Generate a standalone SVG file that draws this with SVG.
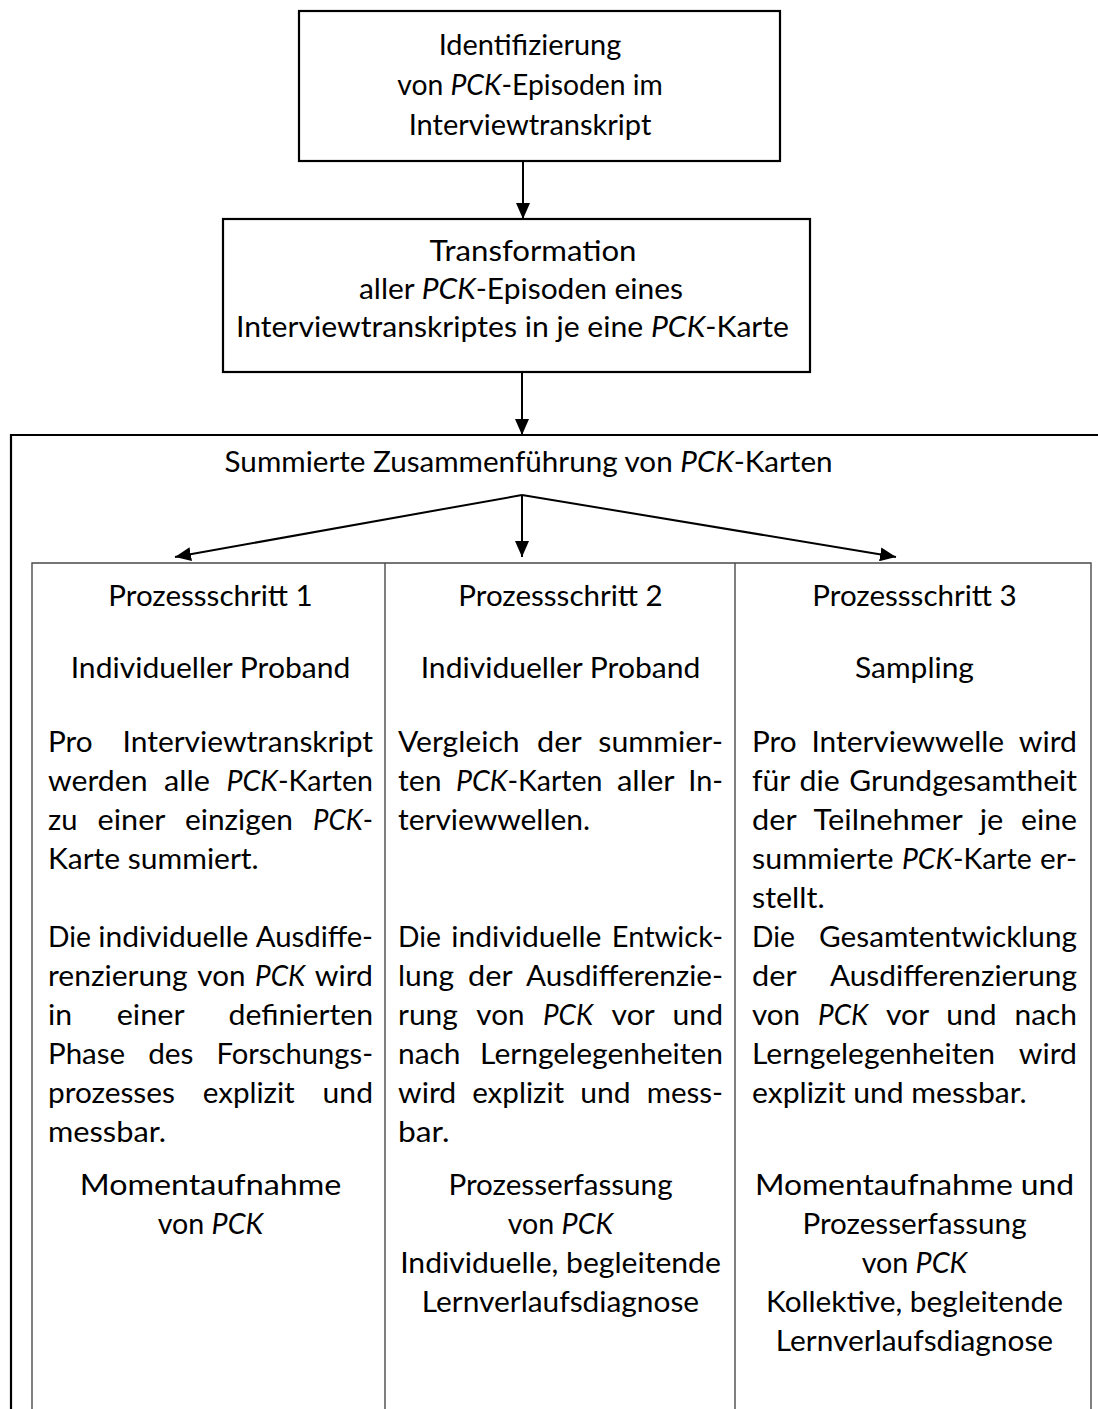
<svg xmlns="http://www.w3.org/2000/svg" width="1098" height="1409" viewBox="0 0 1098 1409">
  <defs>
    <style>
      .t { font-family: Lato, "Liberation Sans", "DejaVu Sans", sans-serif; font-size: 29px; fill: #000; }
      .b1 { font-size: 28px; }
      .b2 { font-size: 29.5px; }
      .i { font-style: italic; }
      .box { fill: #fff; stroke: #000; stroke-width: 2.2; }
      .frame { fill: none; stroke: #000; stroke-width: 2.2; }
      .grid { fill: none; stroke: #4a4a4a; stroke-width: 1.4; }
      .conn { fill: none; stroke: #000; stroke-width: 2; marker-end: url(#ah); }
    </style>
    <marker id="ah" markerUnits="userSpaceOnUse" markerWidth="16" markerHeight="14" refX="16" refY="7" orient="auto">
      <path d="M0,0 L16,7 L0,14 z" fill="#000"/>
    </marker>
  </defs>

  <rect width="1098" height="1409" fill="#fff"/>

  <!-- step 1: identification -->
  <g id="box-identifizierung">
    <rect class="box" x="299" y="11" width="481" height="150"/>
    <text class="t b1" x="530" y="55" text-anchor="middle" textLength="182.6" lengthAdjust="spacingAndGlyphs">Identifizierung</text>
    <text class="t b1" x="530" y="95" text-anchor="middle" textLength="265.6" lengthAdjust="spacingAndGlyphs">von <tspan class="i">PCK</tspan>-Episoden im</text>
    <text class="t b1" x="530" y="135" text-anchor="middle" textLength="242.6" lengthAdjust="spacingAndGlyphs">Interviewtranskript</text>
  </g>

  <!-- step 2: transformation -->
  <g id="box-transformation">
    <rect class="box" x="223" y="219" width="587" height="153"/>
    <text class="t b2" x="533" y="261" text-anchor="middle" textLength="207" lengthAdjust="spacingAndGlyphs">Transformation</text>
    <text class="t b2" x="521" y="299" text-anchor="middle" textLength="324" lengthAdjust="spacingAndGlyphs">aller <tspan class="i">PCK</tspan>-Episoden eines</text>
    <text class="t b2" x="512.5" y="337" text-anchor="middle" textLength="553" lengthAdjust="spacingAndGlyphs">Interviewtranskriptes in je eine <tspan class="i">PCK</tspan>-Karte</text>
  </g>

  <!-- summation frame with title -->
  <g id="box-zusammenfuehrung">
    <path class="frame" d="M1100,435 H11 V1410"/>
    <text class="t" x="528.6" y="472" text-anchor="middle" textLength="608" lengthAdjust="spacingAndGlyphs">Summierte Zusammenführung von <tspan class="i">PCK</tspan>-Karten</text>
  </g>

  <!-- three-column table -->
  <g id="table">
    <path class="grid" d="M32,1410 V563 H1091 V1410 M385,563 V1410 M735,563 V1410"/>
  </g>

  <!-- column 1 -->
  <g id="prozessschritt-1">
    <text class="t" x="210.5" y="606" text-anchor="middle" textLength="204.4" lengthAdjust="spacingAndGlyphs">Prozessschritt 1</text>
    <text class="t" x="210.5" y="678" text-anchor="middle" textLength="279.6" lengthAdjust="spacingAndGlyphs">Individueller Proband</text>
    <text class="t" y="752"><tspan x="48" textLength="44.6" lengthAdjust="spacingAndGlyphs">Pro</tspan> <tspan x="122.6" textLength="250.4" lengthAdjust="spacingAndGlyphs">Interviewtranskript</tspan></text>
    <text class="t" y="791"><tspan x="48" textLength="99.5" lengthAdjust="spacingAndGlyphs">werden</tspan> <tspan x="164" textLength="45.9" lengthAdjust="spacingAndGlyphs">alle</tspan> <tspan x="226.4" textLength="146.6" lengthAdjust="spacingAndGlyphs"><tspan class="i">PCK</tspan>-Karten</tspan></text>
    <text class="t" y="830"><tspan x="48" textLength="29.4" lengthAdjust="spacingAndGlyphs">zu</tspan> <tspan x="97.6" textLength="67.2" lengthAdjust="spacingAndGlyphs">einer</tspan> <tspan x="185" textLength="107.8" lengthAdjust="spacingAndGlyphs">einzigen</tspan> <tspan x="313" textLength="60" lengthAdjust="spacingAndGlyphs"><tspan class="i">PCK</tspan>-</tspan></text>
    <text class="t" x="48" y="869" textLength="210.7" lengthAdjust="spacingAndGlyphs">Karte summiert.</text>
    <text class="t" y="947"><tspan x="48" textLength="42.9" lengthAdjust="spacingAndGlyphs">Die</tspan> <tspan x="98.3" textLength="150.2" lengthAdjust="spacingAndGlyphs">individuelle</tspan> <tspan x="255.8" textLength="117.2" lengthAdjust="spacingAndGlyphs">Ausdiffe-</tspan></text>
    <text class="t" y="986"><tspan x="48" textLength="139.7" lengthAdjust="spacingAndGlyphs">renzierung</tspan> <tspan x="197.3" textLength="48.1" lengthAdjust="spacingAndGlyphs">von</tspan> <tspan x="255" textLength="50.2" lengthAdjust="spacingAndGlyphs" class="i">PCK</tspan> <tspan x="314.8" textLength="58.2" lengthAdjust="spacingAndGlyphs">wird</tspan></text>
    <text class="t" y="1025"><tspan x="48" textLength="24.1" lengthAdjust="spacingAndGlyphs">in</tspan> <tspan x="116.7" textLength="67.2" lengthAdjust="spacingAndGlyphs">einer</tspan> <tspan x="228.5" textLength="144.5" lengthAdjust="spacingAndGlyphs">definierten</tspan></text>
    <text class="t" y="1064"><tspan x="48" textLength="77.1" lengthAdjust="spacingAndGlyphs">Phase</tspan> <tspan x="148.2" textLength="45.3" lengthAdjust="spacingAndGlyphs">des</tspan> <tspan x="216.5" textLength="156.5" lengthAdjust="spacingAndGlyphs">Forschungs-</tspan></text>
    <text class="t" y="1103"><tspan x="48" textLength="126.9" lengthAdjust="spacingAndGlyphs">prozesses</tspan> <tspan x="202.8" textLength="91.9" lengthAdjust="spacingAndGlyphs">explizit</tspan> <tspan x="322.6" textLength="50.4" lengthAdjust="spacingAndGlyphs">und</tspan></text>
    <text class="t" x="48" y="1142" textLength="117.9" lengthAdjust="spacingAndGlyphs">messbar.</text>
    <text class="t" x="210.5" y="1195" text-anchor="middle" textLength="261.6" lengthAdjust="spacingAndGlyphs">Momentaufnahme</text>
    <text class="t" x="210.5" y="1234" text-anchor="middle" textLength="105.6" lengthAdjust="spacingAndGlyphs">von <tspan class="i">PCK</tspan></text>
  </g>

  <!-- column 2 -->
  <g id="prozessschritt-2">
    <text class="t" x="560.5" y="606" text-anchor="middle" textLength="204.4" lengthAdjust="spacingAndGlyphs">Prozessschritt 2</text>
    <text class="t" x="560.5" y="678" text-anchor="middle" textLength="279.6" lengthAdjust="spacingAndGlyphs">Individueller Proband</text>
    <text class="t" y="752"><tspan x="398" textLength="121.6" lengthAdjust="spacingAndGlyphs">Vergleich</tspan> <tspan x="537" textLength="43.9" lengthAdjust="spacingAndGlyphs">der</tspan> <tspan x="598.3" textLength="124.7" lengthAdjust="spacingAndGlyphs">summier-</tspan></text>
    <text class="t" y="791"><tspan x="398" textLength="43.5" lengthAdjust="spacingAndGlyphs">ten</tspan> <tspan x="455.9" textLength="146.6" lengthAdjust="spacingAndGlyphs"><tspan class="i">PCK</tspan>-Karten</tspan> <tspan x="616.9" textLength="57.1" lengthAdjust="spacingAndGlyphs">aller</tspan> <tspan x="688.3" textLength="34.7" lengthAdjust="spacingAndGlyphs">In-</tspan></text>
    <text class="t" x="398" y="830" textLength="192.1" lengthAdjust="spacingAndGlyphs">terviewwellen.</text>
    <text class="t" y="947"><tspan x="398" textLength="42.9" lengthAdjust="spacingAndGlyphs">Die</tspan> <tspan x="451.3" textLength="150.2" lengthAdjust="spacingAndGlyphs">individuelle</tspan> <tspan x="611.8" textLength="111.2" lengthAdjust="spacingAndGlyphs">Entwick-</tspan></text>
    <text class="t" y="986"><tspan x="398" textLength="56" lengthAdjust="spacingAndGlyphs">lung</tspan> <tspan x="468" textLength="43.9" lengthAdjust="spacingAndGlyphs">der</tspan> <tspan x="526" textLength="197" lengthAdjust="spacingAndGlyphs">Ausdifferenzie-</tspan></text>
    <text class="t" y="1025"><tspan x="398" textLength="59.8" lengthAdjust="spacingAndGlyphs">rung</tspan> <tspan x="476.3" textLength="48.1" lengthAdjust="spacingAndGlyphs">von</tspan> <tspan x="542.9" textLength="50.2" lengthAdjust="spacingAndGlyphs" class="i">PCK</tspan> <tspan x="611.6" textLength="42.5" lengthAdjust="spacingAndGlyphs">vor</tspan> <tspan x="672.6" textLength="50.4" lengthAdjust="spacingAndGlyphs">und</tspan></text>
    <text class="t" y="1064"><tspan x="398" textLength="62.5" lengthAdjust="spacingAndGlyphs">nach</tspan> <tspan x="480.1" textLength="242.9" lengthAdjust="spacingAndGlyphs">Lerngelegenheiten</tspan></text>
    <text class="t" y="1103"><tspan x="398" textLength="58.2" lengthAdjust="spacingAndGlyphs">wird</tspan> <tspan x="472.2" textLength="91.9" lengthAdjust="spacingAndGlyphs">explizit</tspan> <tspan x="580.2" textLength="50.4" lengthAdjust="spacingAndGlyphs">und</tspan> <tspan x="646.7" textLength="76.3" lengthAdjust="spacingAndGlyphs">mess-</tspan></text>
    <text class="t" x="398" y="1142" textLength="51.4" lengthAdjust="spacingAndGlyphs">bar.</text>
    <text class="t" x="560.5" y="1195" text-anchor="middle" textLength="224.1" lengthAdjust="spacingAndGlyphs">Prozesserfassung</text>
    <text class="t" x="560.5" y="1234" text-anchor="middle" textLength="105.6" lengthAdjust="spacingAndGlyphs">von <tspan class="i">PCK</tspan></text>
    <text class="t" x="560.5" y="1273" text-anchor="middle" textLength="320.7" lengthAdjust="spacingAndGlyphs">Individuelle, begleitende</text>
    <text class="t" x="560.5" y="1312" text-anchor="middle" textLength="277.3" lengthAdjust="spacingAndGlyphs">Lernverlaufsdiagnose</text>
  </g>

  <!-- column 3 -->
  <g id="prozessschritt-3">
    <text class="t" x="914.5" y="606" text-anchor="middle" textLength="204.4" lengthAdjust="spacingAndGlyphs">Prozessschritt 3</text>
    <text class="t" x="914.5" y="678" text-anchor="middle" textLength="118.9" lengthAdjust="spacingAndGlyphs">Sampling</text>
    <text class="t" y="752"><tspan x="752" textLength="44.6" lengthAdjust="spacingAndGlyphs">Pro</tspan> <tspan x="811.4" textLength="192.7" lengthAdjust="spacingAndGlyphs">Interviewwelle</tspan> <tspan x="1018.8" textLength="58.2" lengthAdjust="spacingAndGlyphs">wird</tspan></text>
    <text class="t" y="791"><tspan x="752" textLength="37.7" lengthAdjust="spacingAndGlyphs">für</tspan> <tspan x="799.5" textLength="40.1" lengthAdjust="spacingAndGlyphs">die</tspan> <tspan x="849.3" textLength="227.7" lengthAdjust="spacingAndGlyphs">Grundgesamtheit</tspan></text>
    <text class="t" y="830"><tspan x="752" textLength="43.9" lengthAdjust="spacingAndGlyphs">der</tspan> <tspan x="813.6" textLength="148.4" lengthAdjust="spacingAndGlyphs">Teilnehmer</tspan> <tspan x="979.7" textLength="23.6" lengthAdjust="spacingAndGlyphs">je</tspan> <tspan x="1021" textLength="56" lengthAdjust="spacingAndGlyphs">eine</tspan></text>
    <text class="t" y="869"><tspan x="752" textLength="141.5" lengthAdjust="spacingAndGlyphs">summierte</tspan> <tspan x="901.9" textLength="129.8" lengthAdjust="spacingAndGlyphs"><tspan class="i">PCK</tspan>-Karte</tspan> <tspan x="1040.1" textLength="36.9" lengthAdjust="spacingAndGlyphs">er-</tspan></text>
    <text class="t" x="752" y="908" textLength="72.6" lengthAdjust="spacingAndGlyphs">stellt.</text>
    <text class="t" y="947"><tspan x="752" textLength="42.9" lengthAdjust="spacingAndGlyphs">Die</tspan> <tspan x="819" textLength="258" lengthAdjust="spacingAndGlyphs">Gesamtentwicklung</tspan></text>
    <text class="t" y="986"><tspan x="752" textLength="43.9" lengthAdjust="spacingAndGlyphs">der</tspan> <tspan x="829.9" textLength="247.1" lengthAdjust="spacingAndGlyphs">Ausdifferenzierung</tspan></text>
    <text class="t" y="1025"><tspan x="752" textLength="48.1" lengthAdjust="spacingAndGlyphs">von</tspan> <tspan x="818" textLength="50.2" lengthAdjust="spacingAndGlyphs" class="i">PCK</tspan> <tspan x="886" textLength="42.5" lengthAdjust="spacingAndGlyphs">vor</tspan> <tspan x="946.3" textLength="50.4" lengthAdjust="spacingAndGlyphs">und</tspan> <tspan x="1014.5" textLength="62.5" lengthAdjust="spacingAndGlyphs">nach</tspan></text>
    <text class="t" y="1064"><tspan x="752" textLength="242.9" lengthAdjust="spacingAndGlyphs">Lerngelegenheiten</tspan> <tspan x="1018.8" textLength="58.2" lengthAdjust="spacingAndGlyphs">wird</tspan></text>
    <text class="t" x="752" y="1103" textLength="274.7" lengthAdjust="spacingAndGlyphs">explizit und messbar.</text>
    <text class="t" x="914.5" y="1195" text-anchor="middle" textLength="319.2" lengthAdjust="spacingAndGlyphs">Momentaufnahme und</text>
    <text class="t" x="914.5" y="1234" text-anchor="middle" textLength="224.1" lengthAdjust="spacingAndGlyphs">Prozesserfassung</text>
    <text class="t" x="914.5" y="1273" text-anchor="middle" textLength="105.6" lengthAdjust="spacingAndGlyphs">von <tspan class="i">PCK</tspan></text>
    <text class="t" x="914.5" y="1312" text-anchor="middle" textLength="296.9" lengthAdjust="spacingAndGlyphs">Kollektive, begleitende</text>
    <text class="t" x="914.5" y="1351" text-anchor="middle" textLength="277.3" lengthAdjust="spacingAndGlyphs">Lernverlaufsdiagnose</text>
  </g>

  <!-- arrows -->
  <g id="connectors">
    <path class="conn" d="M523,161 V219"/>
    <path class="conn" d="M522,372 V435"/>
    <path class="conn" d="M522,495 L175,557"/>
    <path class="conn" d="M522,495 V557"/>
    <path class="conn" d="M522,495 L896,557"/>
  </g>
</svg>
